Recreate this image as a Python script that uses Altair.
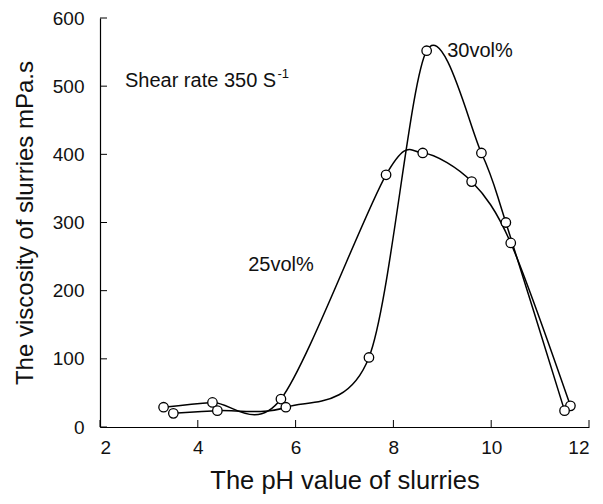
import altair as alt
import pandas as pd

# Data
ph_25 = [3.3, 4.3, 5.7, 7.85, 8.6, 9.6, 10.4, 11.62]
visc_25 = [29, 36, 41, 370, 402, 360, 270, 31]
ph_30 = [3.5, 4.4, 5.8, 7.5, 8.68, 9.8, 10.3, 11.5]
visc_30 = [20, 24, 29, 102, 552, 402, 300, 24]

x_ticks = [2, 4, 6, 8, 10, 12]
y_ticks = [0, 100, 200, 300, 400, 500, 600]

shear_text = ["Shear rate 350 S"]
shear_x = [2.51]
shear_y = [507]
vol_text = ["25vol%", "30vol%"]
vol_x = [5.70, 9.77]
vol_y = [238, 551]
sup_text = ["-1"]
sup_x = [5.63]
sup_y = [518]

FONT = "Liberation Sans"
INK = "#111111"

df = pd.DataFrame({
    "ph": ph_25 + ph_30,
    "visc": visc_25 + visc_30,
    "series": ["25vol%"] * len(ph_25) + ["30vol%"] * len(ph_30),
})
shear_df = pd.DataFrame({"t": shear_text, "x": shear_x, "y": shear_y})
vol_df = pd.DataFrame({"t": vol_text, "x": vol_x, "y": vol_y})
sup_df = pd.DataFrame({"t": sup_text, "x": sup_x, "y": sup_y})
xt = pd.DataFrame({"v": x_ticks})
yt = pd.DataFrame({"v": y_ticks})

xs = alt.Scale(domain=[2, 12], nice=False, zero=False)
ys = alt.Scale(domain=[0, 600], nice=False)

xaxis = alt.Axis(values=x_ticks, ticks=False, grid=False, labelFontSize=19,
                 labelPadding=11, titleFontSize=25.5, titlePadding=11,
                 title="The pH value of slurries", labelFont=FONT, titleFont=FONT,
                 domainColor="black", labelColor=INK, titleColor=INK,
                 titleFontWeight="normal")
yaxis = alt.Axis(values=y_ticks, ticks=False, grid=False, labelFontSize=19,
                 labelPadding=16, titleFontSize=24, titlePadding=15,
                 title="The viscosity of slurries mPa.s", labelFont=FONT, titleFont=FONT,
                 domainColor="black", labelColor=INK, titleColor=INK,
                 titleFontWeight="normal")

lines = alt.Chart(df).mark_line(
    interpolate="cardinal", tension=0.1, color="black", strokeWidth=1.5
).encode(
    x=alt.X("ph:Q", scale=xs, axis=xaxis),
    y=alt.Y("visc:Q", scale=ys, axis=yaxis),
    detail="series:N",
)

points = alt.Chart(df).mark_point(
    shape="circle", filled=True, fill="white", stroke="black", strokeWidth=1.3,
    size=90, opacity=1
).encode(x=alt.X("ph:Q", scale=xs), y=alt.Y("visc:Q", scale=ys))

shear = alt.Chart(shear_df).mark_text(
    align="left", baseline="middle", font=FONT, fontSize=20, color=INK
).encode(x=alt.X("x:Q", scale=xs), y=alt.Y("y:Q", scale=ys), text="t:N")
vol = alt.Chart(vol_df).mark_text(
    align="center", baseline="middle", font=FONT, fontSize=20, color=INK
).encode(x=alt.X("x:Q", scale=xs), y=alt.Y("y:Q", scale=ys), text="t:N")
sup_mark = alt.Chart(sup_df).mark_text(
    align="left", baseline="middle", font=FONT, fontSize=13, color=INK
).encode(x=alt.X("x:Q", scale=xs), y=alt.Y("y:Q", scale=ys), text="t:N")

xtick_marks = alt.Chart(xt).mark_rule(color="black", strokeWidth=1).encode(
    x=alt.X("v:Q", scale=xs), y=alt.value(409), y2=alt.value(402))
ytick_marks = alt.Chart(yt).mark_rule(color="black", strokeWidth=1).encode(
    y=alt.Y("v:Q", scale=ys), x=alt.value(0), x2=alt.value(7))

chart = alt.layer(xtick_marks, ytick_marks, lines, points, shear, vol, sup_mark).properties(
    width=489, height=409,
    autosize=alt.AutoSizeParams(type="none"),
    padding={"left": 92, "top": 10, "right": 6, "bottom": 70},
).configure_view(stroke=None).configure_axis(domainWidth=1.2)

chart.save("out.html", embed_options={"renderer": "svg", "actions": False})
